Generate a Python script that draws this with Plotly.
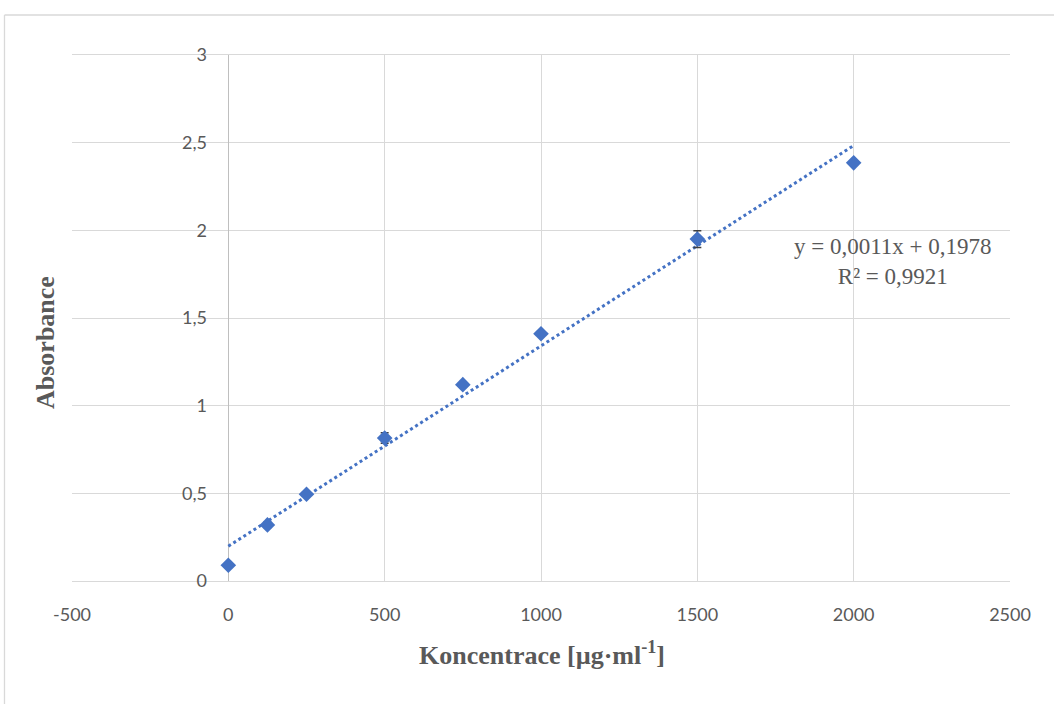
import numpy as np
import plotly.graph_objects as go

conc = [0, 125, 250, 500, 750, 1000, 1500, 2000]
absorb = [0.09, 0.32, 0.495, 0.815, 1.12, 1.41, 1.95, 2.385]
err = [0.01, 0.015, 0.012, 0.03, 0.01, 0.012, 0.048, 0.012]
x_ticks = [-500, 0, 500, 1000, 1500, 2000, 2500]
x_tick_text = ["-500", "0", "500", "1000", "1500", "2000", "2500"]
y_ticks = [0, 0.5, 1, 1.5, 2, 2.5, 3]
y_tick_text = ["0", "0,5", "1", "1,5", "2", "2,5", "3"]
eq_text = "y = 0,0011x + 0,1978<br>R² = 0,9921"

slope, intercept = np.polyfit(conc, absorb, 1)
trend_x = [min(conc), max(conc)]
trend_y = [slope * v + intercept for v in trend_x]

blue = "#4472C4"
gray_txt = "#595959"
grid = "#d9d9d9"

fig = go.Figure()
fig.add_trace(go.Scatter(x=trend_x, y=trend_y, mode="lines",
                         line=dict(color=blue, width=3, dash="dot"),
                         showlegend=False, hoverinfo="skip"))
fig.add_trace(go.Scatter(x=conc, y=absorb, mode="markers",
                         marker=dict(symbol="diamond", size=12, color=blue),
                         error_y=dict(type="data", array=err, color="#404040",
                                      thickness=1.5, width=4),
                         showlegend=False))

fig.update_layout(
    width=1054, height=704,
    margin=dict(l=72, r=44, t=55, b=123),
    paper_bgcolor="white", plot_bgcolor="white",
    font=dict(family="Lato, Liberation Sans, sans-serif", size=18, color=gray_txt),
    xaxis=dict(range=[-500, 2500], tickvals=x_ticks, ticktext=x_tick_text,
               showgrid=True, gridcolor=grid,
               gridwidth=1.3, zeroline=True, zerolinecolor="#bfbfbf", zerolinewidth=1.3,
               showline=True, linecolor=grid, linewidth=1.3, mirror=True,
               ticks="", ticklabelstandoff=17),
    yaxis=dict(range=[0, 3], tickvals=y_ticks, ticktext=y_tick_text,
               showgrid=True, gridcolor=grid,
               gridwidth=1.3, zeroline=False, showline=False,
               anchor="free", position=(229 - 72) / 938,
               ticks="", ticklabelstandoff=22),
    annotations=[
        dict(text="Koncentrace [µg·ml<sup>-1</sup>]", xref="paper", yref="paper",
             x=(542 - 72) / 938, y=-0.137, xanchor="center", yanchor="middle", showarrow=False,
             font=dict(family="Liberation Serif", size=26, color=gray_txt, weight="bold")),
        dict(text="Absorbance", xref="paper", yref="paper", textangle=-90,
             x=(45 - 72) / 938, y=(581 - 343) / 526, xanchor="center", yanchor="middle",
             showarrow=False,
             font=dict(family="Liberation Serif", size=26, color=gray_txt, weight="bold")),
        dict(text=eq_text, xref="x", yref="y", x=2125, y=1.82, showarrow=False,
             xanchor="center", yanchor="middle", align="center",
             font=dict(family="Liberation Serif", size=23, color=gray_txt)),
    ],
    shapes=[
        dict(type="line", xref="paper", yref="paper", x0=(4.5 - 72) / 938, x1=1.1,
             y0=1 + 40 / 526, y1=1 + 40 / 526, line=dict(color=grid, width=1.3)),
        dict(type="line", xref="paper", yref="paper", x0=(4.5 - 72) / 938, x1=(4.5 - 72) / 938,
             y0=1 + 40 / 526, y1=-0.3, line=dict(color=grid, width=1.3)),
    ],
)
fig.write_html("out.html")
